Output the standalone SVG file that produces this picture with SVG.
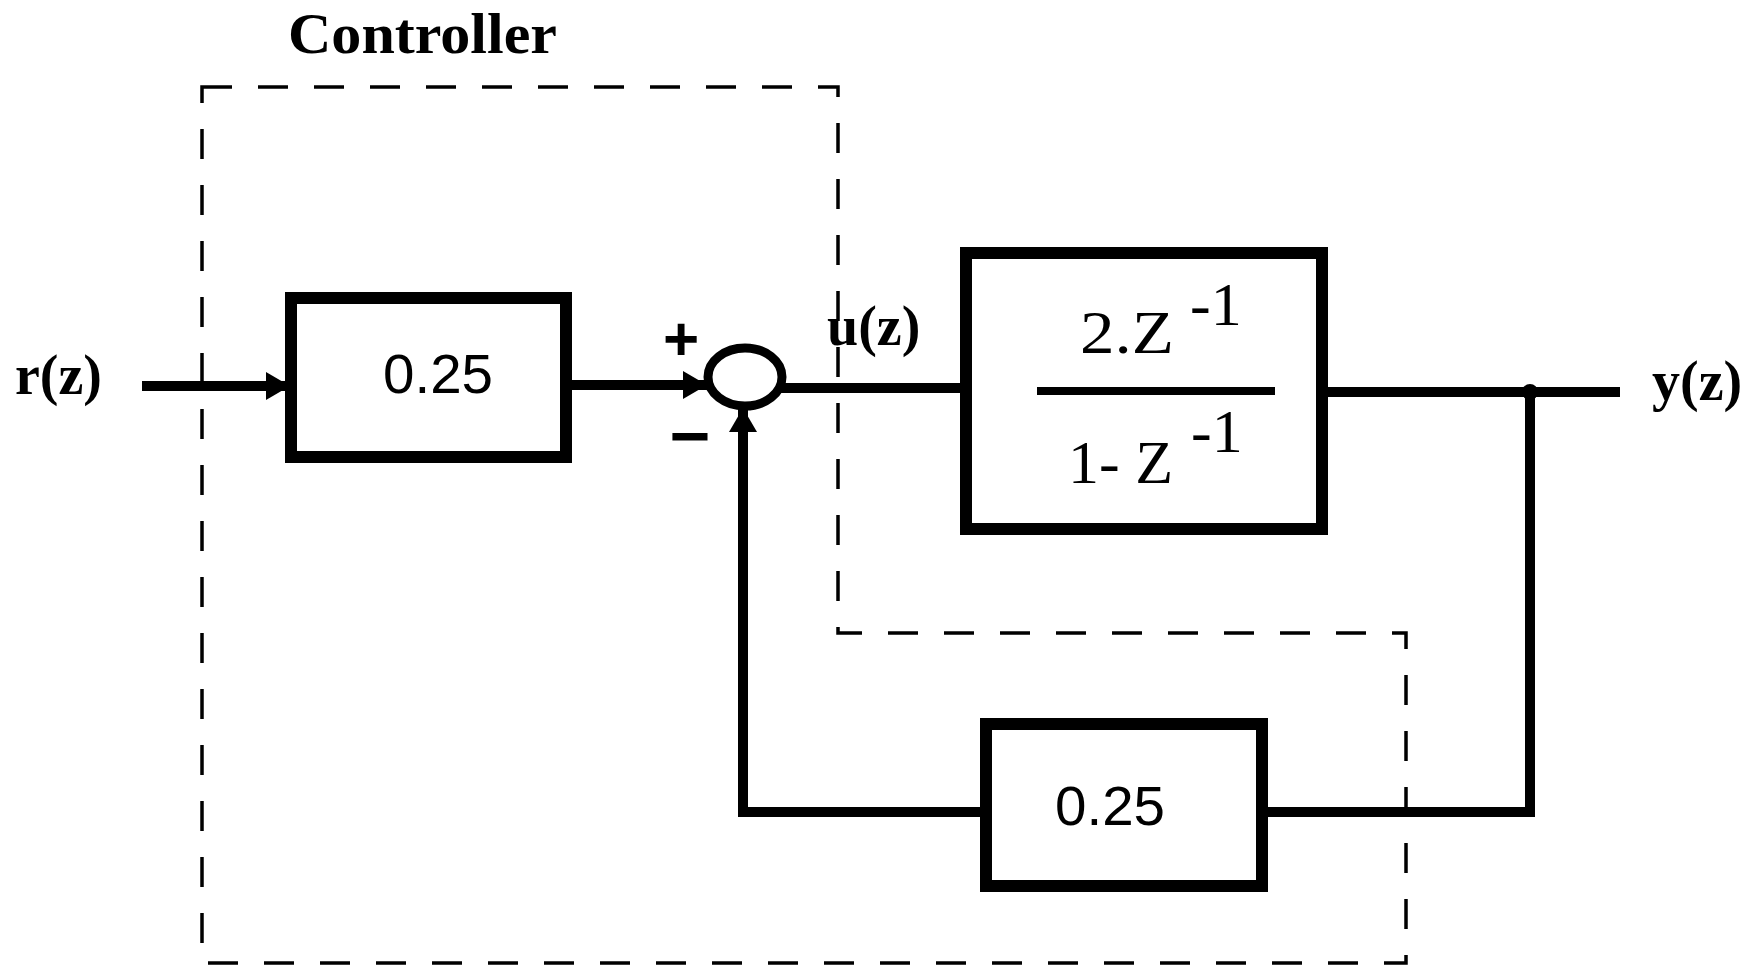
<svg xmlns="http://www.w3.org/2000/svg" width="1764" height="966" viewBox="0 0 1764 966">
<style>
.bg{fill:#ffffff}
.box{fill:none;stroke:#000;stroke-width:12}
.wire{fill:none;stroke:#000;stroke-width:10}
.dash{fill:none;stroke:#000;stroke-width:3.5;stroke-dasharray:30 26}
.lbl{font-family:"Liberation Serif","Times New Roman",serif;font-weight:bold;font-size:56px;fill:#000}
.num{font-family:"Liberation Sans",Arial,sans-serif;font-size:55px;fill:#000}
.tf{font-family:"Liberation Serif","Times New Roman",serif;font-size:62px;fill:#000}
.sign{font-family:"Liberation Sans",Arial,sans-serif;font-weight:bold;fill:#000}
</style>
<defs>
<marker id="arr" markerUnits="userSpaceOnUse" markerWidth="26" markerHeight="30" refX="24" refY="15" orient="auto">
<path d="M0,1 L24,15 L0,29 Z" fill="#000"/>
</marker>
</defs>
<rect class="bg" x="0" y="0" width="1764" height="966"/>

<g id="controller-boundary">
<path class="dash" d="M202,87 H838 V633 H1406 V963 H202 Z"/>
<text class="lbl" x="288" y="53" font-size="58" textLength="269" lengthAdjust="spacingAndGlyphs">Controller</text>
</g>

<g id="connectors">
<path class="wire" d="M142,386 H290" marker-end="url(#arr)"/>
<path class="wire" d="M572,385 H707" marker-end="url(#arr)"/>
<path class="wire" d="M780,388 H960"/>
<path class="wire" d="M1328,392 H1620"/>
<path class="wire" d="M1530,392 V812 H1268"/>
<path class="wire" d="M980,812 H743 V408" marker-end="url(#arr)"/>
<circle cx="1530" cy="392" r="8" fill="#000"/>
</g>

<g id="input-label">
<text class="lbl" x="15" y="394">r(z)</text>
</g>

<g id="gain1">
<rect class="box" x="291" y="298" width="275" height="159"/>
<text class="num" x="383" y="393" textLength="110" lengthAdjust="spacingAndGlyphs">0.25</text>
</g>

<g id="sum">
<ellipse cx="745" cy="377" rx="37" ry="29" fill="#fff" stroke="#000" stroke-width="9"/>
<text class="sign" x="681" y="360" font-size="62" text-anchor="middle">+</text>
<text class="sign" x="690" y="460" font-size="70" text-anchor="middle">−</text>
</g>

<g id="u-label">
<text class="lbl" x="827" y="345">u(z)</text>
</g>

<g id="plant">
<rect class="box" x="966" y="253" width="356" height="276"/>
<line x1="1037" y1="391" x2="1275" y2="391" stroke="#000" stroke-width="8"/>
<text class="tf" x="1080" y="353" textLength="94" lengthAdjust="spacingAndGlyphs">2.Z</text>
<text class="tf" x="1190" y="325">-1</text>
<text class="tf" x="1068" y="483">1- Z</text>
<text class="tf" x="1191" y="452">-1</text>
</g>

<g id="gain2">
<rect class="box" x="986" y="724" width="276" height="162"/>
<text class="num" x="1055" y="825" textLength="110" lengthAdjust="spacingAndGlyphs">0.25</text>
</g>

<g id="output-label">
<text class="lbl" x="1652" y="400">y(z)</text>
</g>
</svg>
